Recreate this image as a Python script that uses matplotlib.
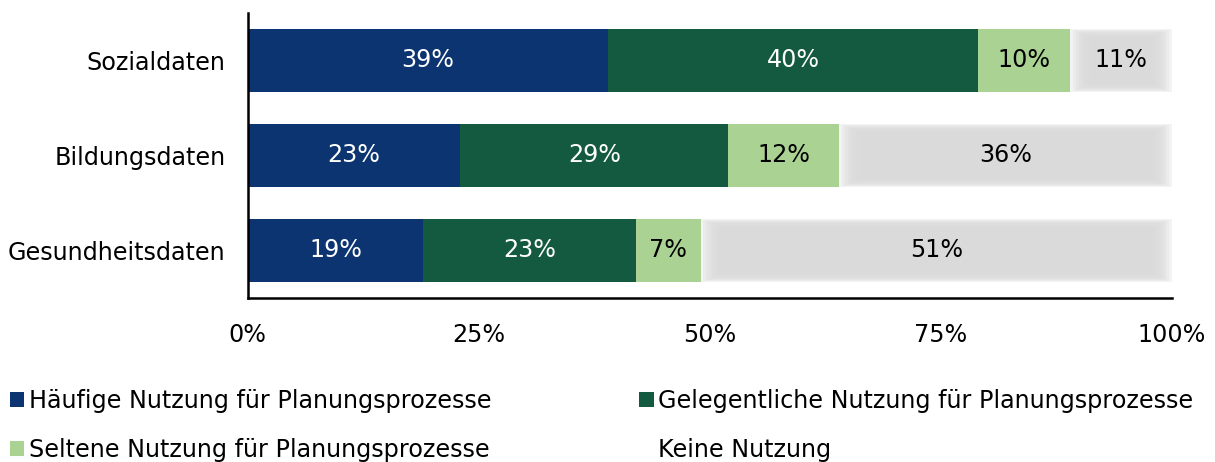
import matplotlib.pyplot as plt

categories = ["Sozialdaten", "Bildungsdaten", "Gesundheitsdaten"]
series = [
    "Häufige Nutzung für Planungsprozesse",
    "Gelegentliche Nutzung für Planungsprozesse",
    "Seltene Nutzung für Planungsprozesse",
    "Keine Nutzung",
]
haeufig = [39, 23, 19]
gelegentlich = [40, 29, 23]
selten = [10, 12, 7]
keine = [11, 36, 51]
xticks = [0, 25, 50, 75, 100]

COLORS = ["#0c3470", "#135a40", "#aad393", "#d9d9d9"]
TEXT_COLORS = ["white", "white", "black", "black"]
FS = 17.2

plt.rcParams["font.family"] = ["DejaVu Sans"]
fig = plt.figure(figsize=(12.15, 4.62), dpi=100)
ax = fig.add_axes([0.204, 0.355, 0.7606, 0.617])

y = list(range(len(categories)))
h = 0.67
left = [0, 0, 0]
handles = []
for vals, col, tc, name in zip([haeufig, gelegentlich, selten, keine], COLORS, TEXT_COLORS, series):
    if name == "Keine Nutzung":
        # soft, blurred-looking grey bar
        for k in range(8):
            d = 0.3 * k
            ax.barh(y, [v - 2 * d for v in vals], left=[l + d for l in left],
                    height=h - 0.025 * k, color=col, alpha=0.3, linewidth=0)
        b = ax.barh(y, vals, left=left, height=h, color="none", linewidth=0, label=name)
    else:
        b = ax.barh(y, vals, left=left, height=h, color=col, linewidth=0, label=name)
    handles.append(b)
    for yi, l, v in zip(y, left, vals):
        ax.text(l + v / 2, yi, f"{v}%", ha="center", va="center", color=tc, fontsize=FS)
    left = [l + v for l, v in zip(left, vals)]

ax.set_xlim(0, 100)
ax.set_ylim(2.5, -0.5)
ax.set_yticks(y)
ax.set_yticklabels(categories, fontsize=FS)
ax.set_xticks(xticks)
ax.set_xticklabels([f"{t}%" for t in xticks], fontsize=FS)
ax.tick_params(axis="both", length=0)
ax.tick_params(axis="x", pad=18)
ax.tick_params(axis="y", pad=16)
for s in ["top", "right"]:
    ax.spines[s].set_visible(False)
for s in ["left", "bottom"]:
    ax.spines[s].set_linewidth(1.8)
    ax.spines[s].set_color("black")

order = [0, 2, 1, 3]
fig.legend([handles[i] for i in order], [series[i] for i in order],
           ncol=2, loc="lower left", bbox_to_anchor=(0.0, -0.02), frameon=False,
           fontsize=FS, handlelength=0.6, handleheight=0.6, handletextpad=0.2,
           columnspacing=6.2, labelspacing=1.05, borderaxespad=0.0)

fig.savefig("out.png", dpi=100)
